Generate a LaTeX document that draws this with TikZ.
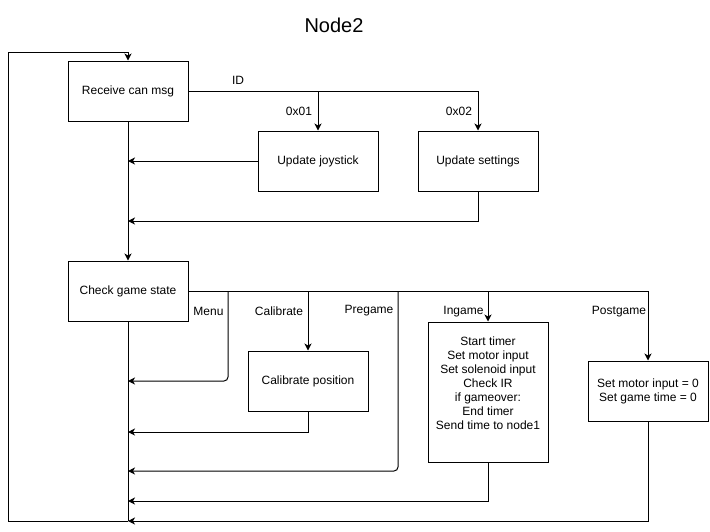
\documentclass[tikz,border=0pt]{standalone}
\usepackage{fontspec}
\setmainfont{Liberation Sans}
\usetikzlibrary{arrows.meta}
\begin{document}
\begin{tikzpicture}[x=1pt,y=-1pt,
  font=\fontsize{12}{14}\selectfont,
  box/.style={draw, line width=1pt, minimum width=120pt, minimum height=60pt, inner sep=0pt, align=center},
  conn/.style={line width=1pt, -{Stealth[length=7pt,width=7pt,inset=2pt]}},
  plain/.style={line width=1pt},
  lbl/.style={inner sep=0pt}]
\useasboundingbox (0,0) rectangle (710,531);
% title
\node[lbl, font=\fontsize{20}{24}\selectfont] (title) at (334,25) {Node2};
% boxes
\node[box] (recv) at (128,91) {Receive can msg};
\node[box] (joy) at (318,161) {Update joystick};
\node[box] (set) at (478,161) {Update settings};
\node[box] (check) at (128,291) {Check game state};
\node[box] (cal) at (308,381) {Calibrate position};
\node[box, minimum height=140pt] (ing) at (488,392) {};
\node[lbl, align=center] (ingtext) at (488,383) {Start timer\\Set motor input\\Set solenoid input\\Check IR\\if gameover:\\End timer\\Send time to node1};
\node[box] (post) at (648,391) {Set motor input = 0\\Set game time = 0};
% coordinates
\coordinate (top) at (128,52);
\coordinate (loopTL) at (8,52);
\coordinate (loopBL) at (8,521);
\coordinate (trunkBot) at (128,521);
\coordinate (r1) at (128,161);
\coordinate (r2) at (128,221);
\coordinate (mB) at (228,291);
\coordinate (mR) at (128,381);
\coordinate (cB) at (308,291);
\coordinate (cR) at (128,432);
\coordinate (pB) at (398,291);
\coordinate (pR) at (128,471);
\coordinate (iB) at (488,291);
\coordinate (iR) at (128,501);
\coordinate (qB) at (648,291);
% ID branch
\draw[conn] (recv.east) -| (joy.north);
\draw[conn] (recv.east) -| (set.north);
\draw[conn] (joy.west) -- (r1);
\draw[conn] (set.south) |- (r2);
\draw[conn] (recv.south) -- (check.north);
% game-state branches
\draw[plain] (check.east) -- (qB);
\draw[conn, rounded corners=4pt] (mB) -- (mB |- mR) -- (mR);
\draw[conn] (cB) -- (cal.north);
\draw[conn] (cal.south) |- (cR);
\draw[conn, rounded corners=4pt] (pB) -- (pB |- pR) -- (pR);
\draw[conn] (iB) -- (ing.north);
\draw[conn] (ing.south) |- (iR);
\draw[conn] (qB) -- (post.north);
\draw[conn] (post.south) |- (trunkBot);
% trunk and loop
\draw[plain] (check.south) -- (trunkBot);
\draw[conn] (trunkBot) -- (loopBL) -- (loopTL) -- (top) -- (recv.north);
% labels
\node[lbl] (lid) at (238,80) {ID};
\node[lbl] (l01) at (299,111) {0x01};
\node[lbl] (l02) at (459,111) {0x02};
\node[lbl] (lmenu) at (208.5,311) {Menu};
\node[lbl] (lcal) at (279,311) {Calibrate};
\node[lbl] (lpre) at (369,311) {Pregame};
\node[lbl] (ling) at (463.5,312) {Ingame};
\node[lbl] (lpost) at (619,312) {Postgame};
\end{tikzpicture}
\end{document}
